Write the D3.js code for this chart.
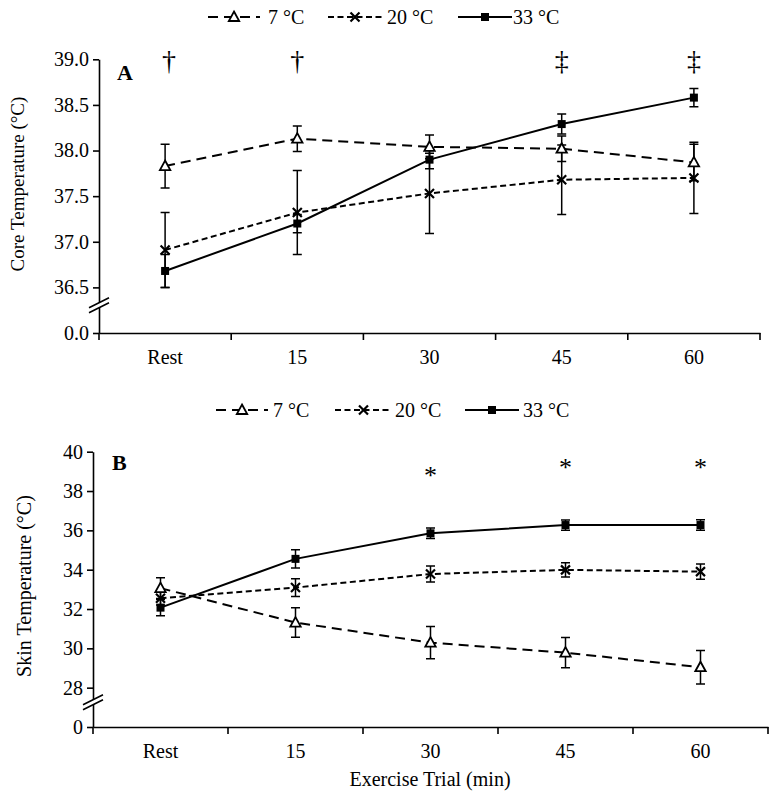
<!DOCTYPE html>
<html><head><meta charset="utf-8">
<script src="https://cdn.jsdelivr.net/npm/d3@7"></script>
<style>
body{margin:0;background:#fff}
text{font-family:"Liberation Serif","Times New Roman",serif;fill:#000}
</style>
</head><body>
<svg id="c" width="774" height="798"></svg>
<script>
// ---------- data ----------
const categories = ["Rest", "15", "30", "45", "60"];
const seriesNames = ["7 °C", "20 °C", "33 °C"];

const coreMean7  = [37.83, 38.13, 38.04, 38.02, 37.87];
const coreErr7   = [0.24, 0.14, 0.13, 0.14, 0.20];
const coreMean20 = [36.91, 37.32, 37.53, 37.68, 37.70];
const coreErr20  = [0.41, 0.46, 0.44, 0.38, 0.39];
const coreMean33 = [36.68, 37.20, 37.90, 38.29, 38.58];
const coreErr33  = [0.18, 0.10, 0.10, 0.11, 0.10];

const skinMean7  = [33.06, 31.31, 30.29, 29.78, 29.04];
const skinErr7   = [0.53, 0.75, 0.82, 0.77, 0.85];
const skinMean20 = [32.55, 33.09, 33.78, 33.99, 33.90];
const skinErr20  = [0.35, 0.45, 0.41, 0.36, 0.39];
const skinMean33 = [32.07, 34.55, 35.85, 36.27, 36.27];
const skinErr33  = [0.41, 0.46, 0.27, 0.26, 0.27];

// broken axis: lowest tick value is shown as the "0" label
const coreTicks = [36, 36.5, 37, 37.5, 38, 38.5, 39];
const coreTickLabels = ["0.0", "36.5", "37.0", "37.5", "38.0", "38.5", "39.0"];
const skinTicks = [26, 28, 30, 32, 34, 36, 38, 40];
const skinTickLabels = ["0", "28", "30", "32", "34", "36", "38", "40"];

const coreSigCats = ["Rest", "15", "45", "60"];
const coreSigSyms = ["†", "†", "‡", "‡"];
const skinSigCats = ["30", "45", "60"];
const skinSigSyms = ["*", "*", "*"];

// ---------- drawing ----------
const svg = d3.select("#c");
const dashes = ["10,6", "6,3.5", null];
const FONT = '"Liberation Serif","Times New Roman",serif';

function marker(g, kind, x, y) {
  if (kind === 0) {
    g.append("path").attr("d", `M${x},${y-5.5}L${x+5.2},${y+4}L${x-5.2},${y+4}Z`)
      .attr("fill", "#fff").attr("stroke", "#000").attr("stroke-width", 1.8);
  } else if (kind === 1) {
    g.append("path").attr("d", `M${x-4.5},${y-4.5}L${x+4.5},${y+4.5}M${x-4.5},${y+4.5}L${x+4.5},${y-4.5}`)
      .attr("stroke", "#000").attr("stroke-width", 2.2);
  } else {
    g.append("rect").attr("x", x-4).attr("y", y-4).attr("width", 8).attr("height", 8).attr("fill", "#000");
  }
}

function panel(cfg) {
  const g = svg.append("g");
  const x = d3.scaleBand().domain(categories).range(cfg.xr).padding(0);
  const y = d3.scaleLinear().domain(cfg.yd).range(cfg.yr);
  const cx = c => x(c) + x.bandwidth() / 2;

  // y axis
  const ya = d3.axisLeft(y).tickValues(cfg.ticks).tickSize(6).tickSizeOuter(0).tickPadding(4)
    .tickFormat((d, i) => cfg.tickLabels[i]);
  const yg = g.append("g").attr("transform", `translate(${cfg.xr[0]},0)`).call(ya);
  yg.selectAll("text").style("font-size", "20px").style("font-family", FONT);
  yg.selectAll("path,line").attr("stroke", "#000").attr("stroke-width", 1.6);

  // x axis
  const xa = d3.axisBottom(x).tickSize(0).tickPadding(17);
  const xg = g.append("g").attr("transform", `translate(0,${cfg.yr[0]})`).call(xa);
  xg.selectAll("text").style("font-size", "20px").style("font-family", FONT);
  xg.select(".domain").attr("stroke", "#000").attr("stroke-width", 1.6);
  const bounds = d3.range(categories.length + 1).map(i => cfg.xr[0] + i * x.step());
  g.selectAll(".xt").data(bounds).join("line")
    .attr("x1", d => d).attr("x2", d => d)
    .attr("y1", cfg.yr[0]).attr("y2", cfg.yr[0] + 7)
    .attr("stroke", "#000").attr("stroke-width", 1.6);

  // axis break
  const yb = (y(cfg.ticks[0]) + y(cfg.ticks[1])) / 2 - 4.5;
  const ax = cfg.xr[0];
  g.append("path").attr("d", `M${ax-10},${yb+2}L${ax+10},${yb-8}L${ax+10},${yb-3}L${ax-10},${yb+7}Z`).attr("fill", "#fff");
  g.append("path").attr("d", `M${ax-10},${yb+2}L${ax+10},${yb-8}M${ax-10},${yb+7}L${ax+10},${yb-3}`)
    .attr("stroke", "#000").attr("stroke-width", 1.6).attr("fill", "none");

  // series
  const line = d3.line().x((d, i) => cx(categories[i])).y(d => y(d));
  cfg.means.forEach((m, s) => {
    g.append("path").datum(m).attr("d", line).attr("fill", "none")
      .attr("stroke", "#000").attr("stroke-width", 2)
      .attr("stroke-dasharray", dashes[s]);
  });
  cfg.means.forEach((m, s) => {
    m.forEach((v, i) => {
      const px = cx(categories[i]);
      const e = cfg.errs[s][i];
      const t = y(v + e), b = y(v - e);
      g.append("path").attr("d", `M${px},${t}V${b}M${px-4.5},${t}H${px+4.5}M${px-4.5},${b}H${px+4.5}`)
        .attr("stroke", "#000").attr("stroke-width", 1.5).attr("fill", "none");
    });
  });
  cfg.means.forEach((m, s) => {
    m.forEach((v, i) => marker(g, s, cx(categories[i]), y(v)));
  });

  // panel letter
  g.append("text").attr("x", cfg.letterX).attr("y", cfg.letterY).text(cfg.letter)
    .style("font-size", "22px").style("font-weight", "bold");

  // y title
  g.append("text").attr("transform", `translate(${cfg.ytX},${cfg.ytY}) rotate(-90)`)
    .attr("text-anchor", "middle").text(cfg.yTitle).style("font-size", cfg.ytSize + "px");

  // legend
  seriesNames.forEach((n, s) => {
    const [x1, x2, tx] = cfg.legend[s];
    const ly = cfg.legendY;
    g.append("line").attr("x1", x1).attr("x2", x2).attr("y1", ly).attr("y2", ly)
      .attr("stroke", "#000").attr("stroke-width", 2).attr("stroke-dasharray", dashes[s]);
    marker(g, s, (x1 + x2) / 2, ly);
    g.append("text").attr("x", tx).attr("y", ly).attr("dy", "0.36em").text(n).style("font-size", "20px");
  });

  // significance symbols
  cfg.sig(g, x, y, cx);
  return {x, y};
}

panel({
  xr: [99, 760], yd: [36, 39], yr: [333, 59.3],
  ticks: coreTicks, tickLabels: coreTickLabels,
  means: [coreMean7, coreMean20, coreMean33], errs: [coreErr7, coreErr20, coreErr33],
  letter: "A", letterX: 117, letterY: 80,
  yTitle: "Core Temperature (°C)", ytX: 24, ytY: 184, ytSize: 19,
  legendY: 17, legend: [[208, 260, 268], [328, 382, 387], [458, 512, 513]],
  sig: (g, x, y, cx) => {
    coreSigCats.forEach((c, i) => {
      g.append("text").attr("x", cx(c) + (i === 0 ? 4 : 0)).attr("y", 70).attr("text-anchor", "middle")
        .text(coreSigSyms[i]).style("font-size", "28px");
    });
  }
});

panel({
  xr: [93, 768], yd: [26, 40], yr: [727, 451.7],
  ticks: skinTicks, tickLabels: skinTickLabels,
  means: [skinMean7, skinMean20, skinMean33], errs: [skinErr7, skinErr20, skinErr33],
  letter: "B", letterX: 112, letterY: 470,
  yTitle: "Skin Temperature (°C)", ytX: 31, ytY: 586, ytSize: 20,
  legendY: 410, legend: [[216, 268, 273], [335, 392, 395], [465, 519, 523]],
  sig: (g, x, y, cx) => {
    skinSigCats.forEach((c, i) => {
      const k = categories.indexOf(c);
      const top = y(skinMean33[k] + skinErr33[k]);
      g.append("text").attr("x", cx(c)).attr("y", top - 44).attr("text-anchor", "middle")
        .text(skinSigSyms[i]).style("font-size", "26px");
    });
  }
});

// shared x title
svg.append("text").attr("x", 430).attr("y", 786).attr("text-anchor", "middle")
  .text("Exercise Trial (min)").style("font-size", "20px");
</script>
</body></html>
